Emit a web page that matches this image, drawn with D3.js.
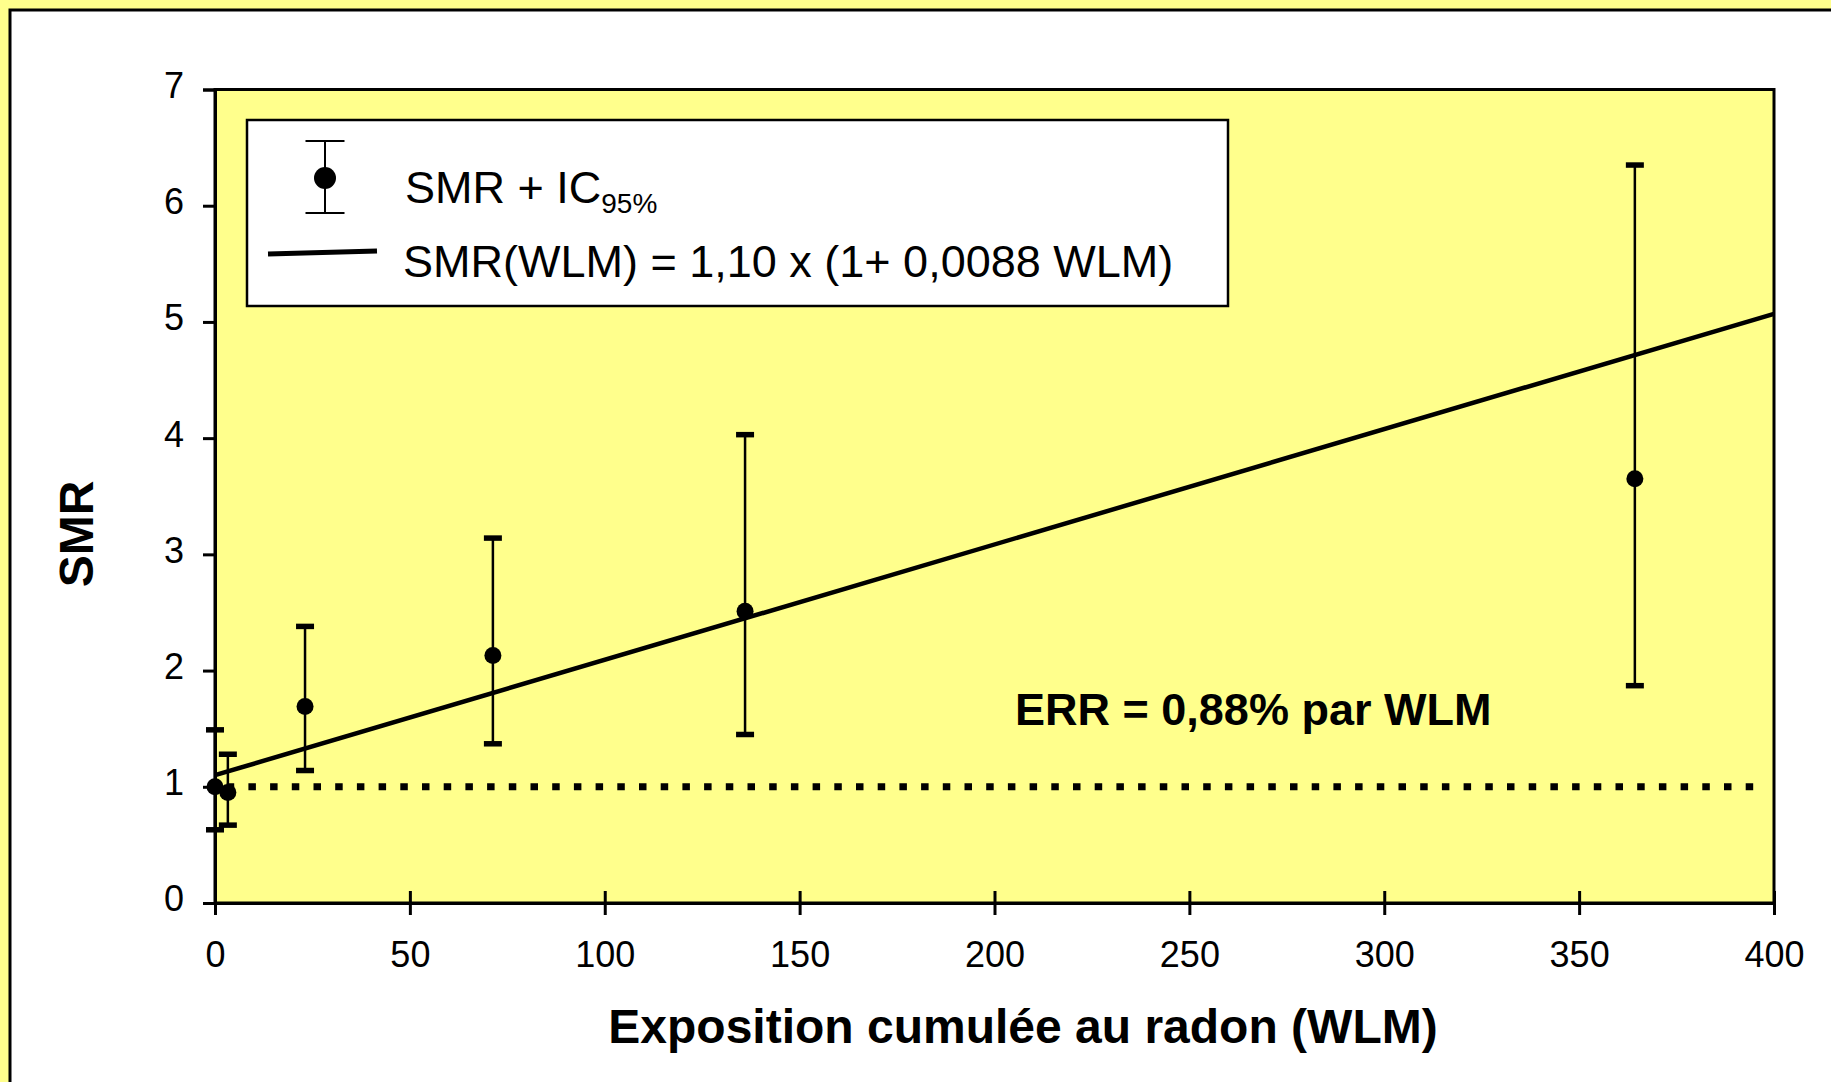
<!DOCTYPE html>
<html>
<head>
<meta charset="utf-8">
<script src="https://cdn.jsdelivr.net/npm/d3@7"></script>
<style>
  body { margin: 0; background: #fff; }
  text { font-family: "Liberation Sans", Arial, sans-serif; fill: #000; }
</style>
</head>
<body>
<div id="chart"></div>
<script>
// data
var wlm    = [0, 3.3, 23.1, 71.3, 136, 364.3];
var smr    = [1.0, 0.95, 1.69, 2.13, 2.51, 3.65];
var ciLow  = [0.63, 0.67, 1.14, 1.37, 1.45, 1.87];
var ciHigh = [1.49, 1.28, 2.38, 3.14, 4.03, 6.35];

var fitX = [0, 400];
var fitY = [1.10, 5.07];

var refLevel = 1;
var xTicks = [0, 50, 100, 150, 200, 250, 300, 350, 400];
var yTicks = [0, 1, 2, 3, 4, 5, 6, 7];

var W = 1831, H = 1082;
var pLeft = 215, pRight = 1774, pTop = 89.5, pBottom = 903;
var yellow = "#ffff8c";

var svg = d3.select("#chart").append("svg")
    .attr("width", W)
    .attr("height", H);

// outer frame (cropped on right and bottom)
svg.append("rect").attr("width", W).attr("height", H).style("fill", yellow);
svg.append("rect")
    .attr("x", 10).attr("y", 10)
    .attr("width", W + 20).attr("height", H + 20)
    .style("fill", "#fff").style("stroke", "#000").style("stroke-width", 3);

var x = d3.scaleLinear().domain([0, 400]).range([pLeft, pRight]);
var y = d3.scaleLinear().domain([0, 7]).range([pBottom, pTop]);

// plot area
svg.append("rect")
    .attr("x", pLeft).attr("y", pTop)
    .attr("width", pRight - pLeft).attr("height", pBottom - pTop)
    .style("fill", yellow).style("stroke", "#000").style("stroke-width", 3);

// axes
var xAxis = svg.append("g")
    .attr("transform", "translate(0," + pBottom + ")")
    .call(d3.axisBottom(x).tickValues(xTicks).tickFormat(d3.format("d"))
        .tickSizeOuter(0).tickSize(12).tickPadding(0));
xAxis.selectAll(".tick line").attr("y1", -12).attr("y2", 12);
xAxis.selectAll(".tick text").attr("y", 38.5).attr("dy", "0.71em");

var yAxis = svg.append("g")
    .attr("transform", "translate(" + pLeft + ",0)")
    .call(d3.axisLeft(y).tickValues(yTicks).tickFormat(d3.format("d"))
        .tickSizeOuter(0).tickSize(12).tickPadding(19));
yAxis.selectAll(".tick text").attr("dy", "0.22em");

svg.selectAll(".domain, .tick line")
    .style("stroke", "#000").style("stroke-width", 3);
svg.selectAll(".tick text")
    .style("font-family", "Liberation Sans, Arial, sans-serif")
    .style("font-size", "36px").style("fill", "#000");

// reference dotted line at SMR = 1
svg.append("line")
    .attr("x1", x(0)).attr("x2", x(400) - 9)
    .attr("y1", y(refLevel)).attr("y2", y(refLevel))
    .style("stroke", "#000").style("stroke-width", 7)
    .style("stroke-dasharray", "7.5,14.2")
    .style("stroke-dashoffset", 10);

// fitted line
svg.append("line")
    .attr("x1", x(fitX[0])).attr("y1", y(fitY[0]))
    .attr("x2", x(fitX[1])).attr("y2", y(fitY[1]))
    .style("stroke", "#000").style("stroke-width", 4.5);

// error bars + points
var pts = wlm.map(function(d, i) {
    return {x: d, v: smr[i], lo: ciLow[i], hi: ciHigh[i]};
});
var g = svg.append("g").selectAll("g").data(pts).enter().append("g");
g.append("line")
    .attr("x1", function(d) { return x(d.x); })
    .attr("x2", function(d) { return x(d.x); })
    .attr("y1", function(d) { return y(d.lo); })
    .attr("y2", function(d) { return y(d.hi); })
    .style("stroke", "#000").style("stroke-width", 2.5);
["lo", "hi"].forEach(function(k) {
    g.append("line")
        .attr("x1", function(d) { return x(d.x) - 9; })
        .attr("x2", function(d) { return x(d.x) + 9; })
        .attr("y1", function(d) { return y(d[k]); })
        .attr("y2", function(d) { return y(d[k]); })
        .style("stroke", "#000").style("stroke-width", 5.5);
});
g.append("circle")
    .attr("cx", function(d) { return x(d.x); })
    .attr("cy", function(d) { return y(d.v); })
    .attr("r", 8.5)
    .style("fill", "#000");

// annotation
svg.append("text")
    .attr("x", 1015).attr("y", 725)
    .style("font-size", "45px").style("font-weight", "bold")
    .text("ERR = 0,88% par WLM");

// legend
var lg = svg.append("g");
lg.append("rect")
    .attr("x", 247).attr("y", 120).attr("width", 981).attr("height", 186)
    .style("fill", "#fff").style("stroke", "#000").style("stroke-width", 2.5);
lg.append("line").attr("x1", 325).attr("x2", 325).attr("y1", 141).attr("y2", 213)
    .style("stroke", "#000").style("stroke-width", 2);
[141, 213].forEach(function(cy) {
    lg.append("line").attr("x1", 305.5).attr("x2", 344.5).attr("y1", cy).attr("y2", cy)
        .style("stroke", "#000").style("stroke-width", 2);
});
lg.append("circle").attr("cx", 325).attr("cy", 178).attr("r", 11).style("fill", "#000");
lg.append("line").attr("x1", 268).attr("x2", 377).attr("y1", 254).attr("y2", 251)
    .style("stroke", "#000").style("stroke-width", 5);

var t1 = lg.append("text").attr("x", 405).attr("y", 203).style("font-size", "45px");
t1.append("tspan").text("SMR + IC");
t1.append("tspan").attr("dy", 10).style("font-size", "28px").text("95%");

lg.append("text").attr("x", 403).attr("y", 277).style("font-size", "45px")
    .text("SMR(WLM) = 1,10 x (1+ 0,0088 WLM)");

// axis titles
svg.append("text")
    .attr("x", 1023).attr("y", 1043)
    .attr("text-anchor", "middle")
    .style("font-size", "48px").style("font-weight", "bold")
    .text("Exposition cumulée au radon (WLM)");

svg.append("text")
    .attr("transform", "translate(93,534) rotate(-90)")
    .attr("text-anchor", "middle")
    .style("font-size", "48px").style("font-weight", "bold")
    .text("SMR");
</script>
</body>
</html>
